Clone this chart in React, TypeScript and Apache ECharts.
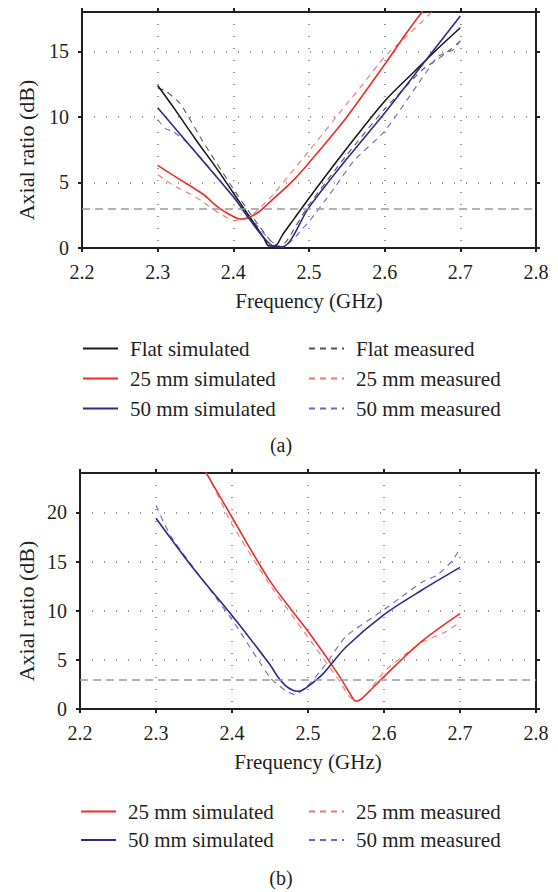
import React, { useEffect, useRef } from "react";
import * as echarts from "echarts";

// ---------- Panel (a) ----------
const aFlatSimF = [2.30, 2.32, 2.35, 2.38, 2.40, 2.42, 2.44, 2.447, 2.455, 2.465, 2.48, 2.50, 2.55, 2.60, 2.64, 2.67, 2.70];
const aFlatSimV = [12.4, 10.8, 8.3, 5.9, 4.2, 2.5, 0.8, 0.15, 0.15, 1.0, 2.2, 3.8, 7.6, 11.2, 13.5, 15.2, 16.8];

const aFlatMeasF = [2.30, 2.31, 2.33, 2.36, 2.40, 2.43, 2.45, 2.46, 2.47, 2.50, 2.55, 2.60, 2.65, 2.68, 2.70];
const aFlatMeasV = [12.2, 12.0, 11.0, 8.1, 4.5, 2.0, 0.5, 0.1, 0.5, 3.3, 7.1, 10.6, 13.6, 14.8, 15.8];

const a25SimF = [2.30, 2.33, 2.36, 2.38, 2.40, 2.41, 2.43, 2.45, 2.48, 2.50, 2.55, 2.60, 2.63, 2.66];
const a25SimV = [6.3, 5.2, 4.1, 3.1, 2.4, 2.2, 2.6, 3.6, 5.2, 6.5, 10.0, 14.0, 16.5, 18.8];

const a25MeasF = [2.30, 2.31, 2.32, 2.35, 2.38, 2.40, 2.42, 2.45, 2.48, 2.50, 2.55, 2.57, 2.60, 2.63, 2.65, 2.67];
const a25MeasV = [5.6, 5.2, 4.8, 3.9, 2.7, 2.1, 2.3, 3.9, 6.0, 7.4, 11.0, 12.4, 14.6, 16.2, 17.3, 18.5];

const a50SimF = [2.30, 2.35, 2.40, 2.42, 2.44, 2.455, 2.465, 2.50, 2.55, 2.60, 2.65, 2.70];
const a50SimV = [10.7, 7.3, 3.9, 2.3, 0.8, 0.1, 0.1, 3.1, 6.8, 10.3, 14.0, 17.7];

const a50MeasF = [2.30, 2.31, 2.32, 2.34, 2.37, 2.40, 2.43, 2.45, 2.465, 2.48, 2.49, 2.50, 2.53, 2.56, 2.60, 2.65, 2.67, 2.69, 2.70];
const a50MeasV = [9.8, 9.1, 8.9, 8.0, 6.0, 3.9, 1.8, 0.5, 0.05, 0.7, 1.4, 2.0, 4.3, 6.7, 8.9, 13.0, 14.6, 15.1, 15.8];

// ---------- Panel (b) ----------
const b25SimF = [2.36, 2.40, 2.45, 2.50, 2.54, 2.555, 2.563, 2.57, 2.60, 2.65, 2.70];
const b25SimV = [24.8, 19.5, 13.0, 7.9, 3.5, 1.6, 0.8, 1.0, 3.3, 6.9, 9.7];

const b25MeasF = [2.36, 2.37, 2.40, 2.43, 2.45, 2.50, 2.54, 2.555, 2.565, 2.575, 2.60, 2.63, 2.65, 2.68, 2.70];
const b25MeasV = [25.0, 23.5, 18.8, 15.0, 12.6, 7.3, 3.0, 1.2, 0.8, 1.3, 3.8, 5.7, 6.8, 7.8, 8.8];

const b50SimF = [2.30, 2.35, 2.40, 2.45, 2.46, 2.47, 2.48, 2.488, 2.50, 2.52, 2.55, 2.60, 2.65, 2.70];
const b50SimV = [19.4, 14.2, 9.5, 4.5, 3.3, 2.4, 1.9, 1.8, 2.3, 3.6, 6.3, 9.6, 12.1, 14.4];

const b50MeasF = [2.30, 2.31, 2.32, 2.35, 2.40, 2.45, 2.47, 2.483, 2.50, 2.52, 2.55, 2.60, 2.63, 2.65, 2.67, 2.69, 2.70];
const b50MeasV = [20.7, 19.0, 17.5, 14.3, 9.1, 3.2, 1.9, 1.45, 2.4, 4.2, 7.4, 10.1, 11.8, 12.9, 13.6, 15.1, 16.3];

const threshold = 3;

const FONT = "Liberation Serif";
const INK = "#231f20";

const C_BLACK = "#1a1a1a";
const C_BLACK_M = "#555555";
const C_RED = "#ec2f26";
const C_RED_M = "#f2786a";
const C_BLUE = "#2f2a8c";
const C_BLUE_M = "#6a66c4";

const zip = (xs: number[], ys: number[]) => xs.map((x, i) => [x, ys[i]]);

function axesFor(gridIndex: number, yMax: number) {
  const label = { fontFamily: FONT, fontSize: 20, color: INK };
  const line = { lineStyle: { color: INK, width: 2 } };
  const tick = { show: true, inside: false, length: 4, lineStyle: { color: INK, width: 2 } };
  const xMain = {
    type: "value",
    gridIndex,
    min: 2.2,
    max: 2.8,
    interval: 0.1,
    position: "bottom",
    name: "Frequency (GHz)",
    nameLocation: "middle",
    nameGap: 42,
    nameTextStyle: { fontFamily: FONT, fontSize: 21, color: INK },
    axisLine: { show: true, onZero: false, ...line },
    axisTick: tick,
    axisLabel: { ...label, margin: 14, formatter: (v: number) => v.toFixed(1) },
    splitLine: { show: true, lineStyle: { color: "#777", width: 1.5, type: [1, 11] } },
  };
  const xTop = {
    type: "value",
    gridIndex,
    min: 2.2,
    max: 2.8,
    interval: 0.1,
    position: "top",
    axisLine: { show: true, onZero: false, ...line },
    axisTick: tick,
    axisLabel: { show: false },
    splitLine: { show: false },
  };
  const yMain = {
    type: "value",
    gridIndex,
    min: 0,
    max: yMax,
    interval: 5,
    position: "left",
    axisLine: { show: true, onZero: false, ...line },
    axisTick: tick,
    axisLabel: { ...label, margin: 13, showMaxLabel: false },
    splitLine: { show: true, lineStyle: { color: "#777", width: 1.5, type: [1, 11] } },
  };
  const yRight = {
    type: "value",
    gridIndex,
    min: 0,
    max: yMax,
    interval: 5,
    position: "right",
    axisLine: { show: true, onZero: false, ...line },
    axisTick: tick,
    axisLabel: { show: false },
    splitLine: { show: false },
  };
  return { x: [xMain, xTop], y: [yMain, yRight] };
}

function lineSeries(
  name: string,
  data: number[][],
  color: string,
  dashed: boolean,
  axisIndex: number,
  extra: any = {}
) {
  return {
    type: "line",
    name,
    data,
    xAxisIndex: axisIndex,
    yAxisIndex: axisIndex,
    symbol: "none",
    showSymbol: false,
    smooth: dashed ? 0.15 : 0.3,
    clip: true,
    color,
    lineStyle: {
      color,
      width: dashed ? 1.1 : 1.6,
      type: dashed ? [6, 5] : "solid",
    },
    z: dashed ? 3 : 4,
    ...extra,
  };
}

const thresholdMark = {
  markLine: {
    silent: true,
    symbol: ["none", "none"],
    label: { show: false },
    lineStyle: { color: "#9a9a9a", width: 1.5, type: [8, 5] },
    data: [{ yAxis: threshold }],
  },
};

function legendCol(left: number, top: number, names: string[], gap: number) {
  return {
    orient: "vertical",
    left,
    top,
    padding: 0,
    itemWidth: 35,
    itemHeight: 14,
    itemGap: gap,
    selectedMode: false,
    data: names,
    itemStyle: { opacity: 0, borderWidth: 0 },
    textStyle: {
      fontFamily: FONT,
      fontSize: 21,
      color: INK,
      lineHeight: 20,
      padding: [0, 0, 0, 7],
    },
  };
}

function textEl(text: string, x: number, y: number, size: number, rotation = 0) {
  return {
    type: "text",
    x,
    y,
    rotation,
    style: {
      text,
      fontFamily: FONT,
      fontSize: size,
      fill: INK,
      align: "center",
      verticalAlign: "middle",
    },
  };
}

export default function App() {
  const ref = useRef<HTMLDivElement>(null);

  useEffect(() => {
    if (!ref.current) return;
    const chart = echarts.init(ref.current, undefined, { renderer: "svg" });
    const a = axesFor(0, 18);
    const b = axesFor(1, 24);

    const option: any = {
      animation: false,
      backgroundColor: "#ffffff",
      grid: [
        { left: 82, top: 12, width: 454, height: 236 },
        { left: 80, top: 473, width: 456, height: 236 },
      ],
      xAxis: [a.x[0], a.x[1], b.x[0], b.x[1]],
      yAxis: [a.y[0], a.y[1], b.y[0], b.y[1]],
      legend: [
        legendCol(82, 338, ["Flat simulated", "25 mm simulated", "50 mm simulated"], 9),
        legendCol(308, 338, ["Flat measured", "25 mm measured", "50 mm measured"], 9),
        legendCol(80, 801, ["25 mm simulated", "50 mm simulated"], 7.5),
        legendCol(308, 801, ["25 mm measured", "50 mm measured"], 7.5),
      ],
      graphic: [
        textEl("Axial ratio (dB)", 26, 150, 22, Math.PI / 2),
        textEl("Axial ratio (dB)", 26, 611, 22, Math.PI / 2),
        textEl("(a)", 281, 445, 20),
        textEl("(b)", 281, 878, 20),
      ],
      series: [
        lineSeries("Flat measured", zip(aFlatMeasF, aFlatMeasV), C_BLACK_M, true, 0, thresholdMark),
        lineSeries("25 mm measured", zip(a25MeasF, a25MeasV), C_RED_M, true, 0),
        lineSeries("50 mm measured", zip(a50MeasF, a50MeasV), C_BLUE_M, true, 0),
        lineSeries("Flat simulated", zip(aFlatSimF, aFlatSimV), C_BLACK, false, 0),
        lineSeries("25 mm simulated", zip(a25SimF, a25SimV), C_RED, false, 0),
        lineSeries("50 mm simulated", zip(a50SimF, a50SimV), C_BLUE, false, 0),

        lineSeries("25 mm measured", zip(b25MeasF, b25MeasV), C_RED_M, true, 2, thresholdMark),
        lineSeries("50 mm measured", zip(b50MeasF, b50MeasV), C_BLUE_M, true, 2),
        lineSeries("25 mm simulated", zip(b25SimF, b25SimV), C_RED, false, 2),
        lineSeries("50 mm simulated", zip(b50SimF, b50SimV), C_BLUE, false, 2),
      ],
    };
    chart.setOption(option);
    return () => chart.dispose();
  }, []);

  return (
    <div
      ref={ref}
      style={{ position: "fixed", left: 0, top: 0, width: 558, height: 892, background: "#fff" }}
    />
  );
}
